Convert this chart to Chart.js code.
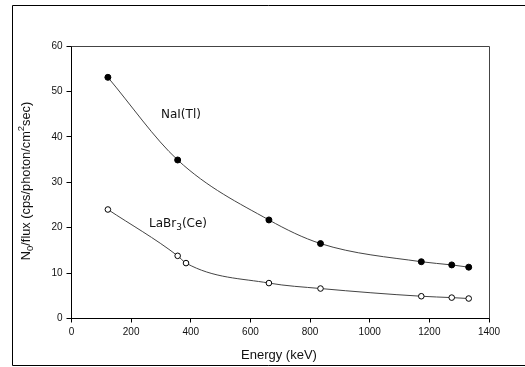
<!DOCTYPE html>
<html>
<head>
<meta charset="utf-8">
<script src="https://cdn.jsdelivr.net/npm/chart.js@4.4.0/dist/chart.umd.min.js"></script>
<style>
html,body{margin:0;padding:0;background:#fff;}
#wrap{position:relative;width:525px;height:367px;}
</style>
</head>
<body>
<div id="wrap"><canvas id="c" width="525" height="367"></canvas></div>
<script>
// Data
const energiesNaI = [122, 356, 662, 835, 1173, 1275, 1332];
const valuesNaI   = [53.1, 34.9, 21.7, 16.5, 12.5, 11.8, 11.3];
const energiesLaBr = [122, 356, 384, 662, 835, 1173, 1275, 1332];
const valuesLaBr   = [24.0, 13.8, 12.2, 7.8, 6.6, 4.9, 4.6, 4.4];
const xTicks = [0, 200, 400, 600, 800, 1000, 1200, 1400];
const yTicks = [0, 10, 20, 30, 40, 50, 60];

const toPts = (xs, ys) => xs.map((x, i) => ({x: x, y: ys[i]}));

const tickFont = {family: 'Liberation Sans, Arial, sans-serif', size: 10};

const decorPlugin = {
  id: 'decor',
  beforeDraw(chart) {
    const ctx = chart.ctx;
    ctx.save();
    ctx.fillStyle = '#fff';
    ctx.fillRect(0, 0, chart.width, chart.height);
    ctx.restore();
  },
  afterDraw(chart) {
    const ctx = chart.ctx;
    const a = chart.chartArea;
    ctx.save();
    // outer frame (left, top, bottom)
    ctx.strokeStyle = '#000';
    ctx.lineWidth = 1;
    ctx.beginPath();
    ctx.moveTo(525, 5.5); ctx.lineTo(12.5, 5.5); ctx.lineTo(12.5, 365.5); ctx.lineTo(525, 365.5);
    ctx.stroke();
    // plot box top & right
    ctx.strokeStyle = '#444';
    ctx.beginPath();
    ctx.moveTo(a.left, a.top + 0.5); ctx.lineTo(a.right + 0.5, a.top + 0.5); ctx.lineTo(a.right + 0.5, a.bottom);
    ctx.stroke();

    // series labels
    ctx.fillStyle = '#111';
    ctx.textBaseline = 'middle';
    ctx.font = '12px "DejaVu Sans", sans-serif';
    ctx.textAlign = 'left';
    ctx.fillText('NaI(Tl)', 161, 115);
    let x = 149;
    const y = 224;
    ctx.fillText('LaBr', x, y); x += ctx.measureText('LaBr').width;
    ctx.font = '9px "DejaVu Sans", sans-serif';
    ctx.fillText('3', x, y + 4); x += ctx.measureText('3').width;
    ctx.font = '12px "DejaVu Sans", sans-serif';
    ctx.fillText('(Ce)', x, y);

    // x axis title
    ctx.font = '13px "Liberation Sans", Arial, sans-serif';
    ctx.textAlign = 'center';
    ctx.fillText('Energy (keV)', 279, 355);

    // y axis title, rotated, with subscript/superscript
    ctx.translate(26, 181);
    ctx.rotate(-Math.PI / 2);
    const big = '12.8px "Liberation Sans", Arial, sans-serif';
    const small = '9.5px "Liberation Sans", Arial, sans-serif';
    const parts = [
      {t: 'N', f: big, dy: 0},
      {t: '0', f: small, dy: 4},
      {t: '/flux (cps/photon/cm', f: big, dy: 0},
      {t: '2', f: small, dy: -5},
      {t: 'sec)', f: big, dy: 0}
    ];
    let total = 0;
    parts.forEach(p => { ctx.font = p.f; p.w = ctx.measureText(p.t).width; total += p.w; });
    let px = -total / 2;
    ctx.textAlign = 'left';
    parts.forEach(p => { ctx.font = p.f; ctx.fillText(p.t, px, p.dy); px += p.w; });
    ctx.restore();
  }
};

new Chart(document.getElementById('c'), {
  type: 'scatter',
  data: {
    datasets: [
      {
        label: 'NaI(Tl)',
        data: toPts(energiesNaI, valuesNaI),
        showLine: true,
        cubicInterpolationMode: 'monotone',
        borderColor: '#444',
        borderWidth: 1,
        pointRadius: 3,
        pointBackgroundColor: '#000',
        pointBorderColor: '#000',
        pointBorderWidth: 1
      },
      {
        label: 'LaBr3(Ce)',
        data: toPts(energiesLaBr, valuesLaBr),
        showLine: true,
        cubicInterpolationMode: 'monotone',
        borderColor: '#444',
        borderWidth: 1,
        pointRadius: 2.8,
        pointBackgroundColor: '#fff',
        pointBorderColor: '#000',
        pointBorderWidth: 1
      }
    ]
  },
  options: {
    responsive: false,
    animation: false,
    layout: {padding: {left: 0, top: 46, right: 36, bottom: 0}},
    plugins: {legend: {display: false}, tooltip: {enabled: false}},
    scales: {
      x: {
        type: 'linear',
        min: 0, max: 1400,
        afterFit(s) { s.height = 48.5; },
        afterBuildTicks(s) { s.ticks = xTicks.map(v => ({value: v})); },
        grid: {drawOnChartArea: false, drawTicks: true, tickLength: 4, color: '#000'},
        border: {display: true, color: '#000', width: 1},
        ticks: {font: tickFont, color: '#111', padding: 4, maxRotation: 0, callback: v => String(v)}
      },
      y: {
        type: 'linear',
        min: 0, max: 60,
        afterFit(s) { s.width = 71.5; },
        afterBuildTicks(s) { s.ticks = yTicks.map(v => ({value: v})); },
        grid: {drawOnChartArea: false, drawTicks: true, tickLength: 5, color: '#000'},
        border: {display: true, color: '#000', width: 1},
        ticks: {font: tickFont, color: '#111', padding: 4, callback: v => String(v)}
      }
    }
  },
  plugins: [decorPlugin]
});
</script>
</body>
</html>
